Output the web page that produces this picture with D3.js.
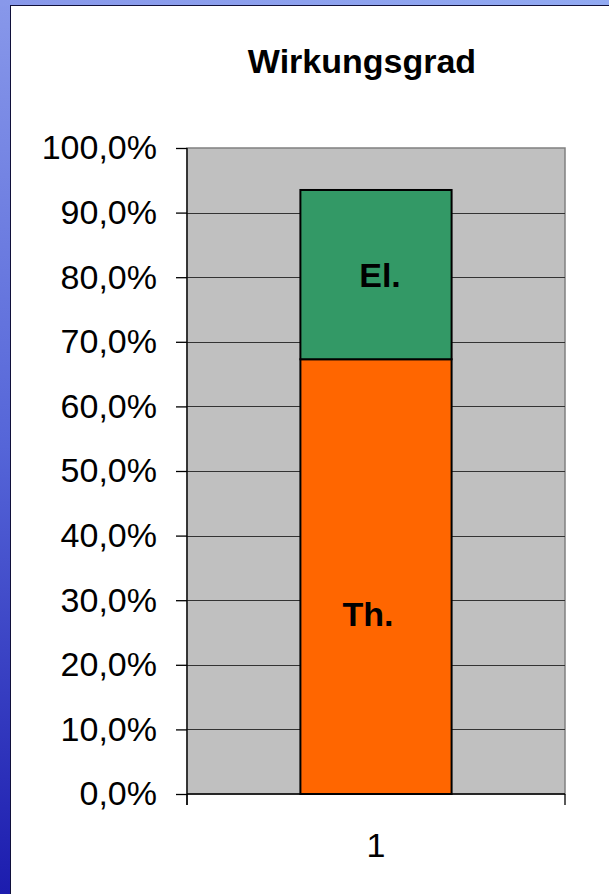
<!DOCTYPE html>
<html>
<head>
<meta charset="utf-8">
<script src="https://cdn.jsdelivr.net/npm/d3@7"></script>
<style>
  html, body { margin: 0; padding: 0; background: #fff; }
  svg { display: block; }
  text { font-family: Arial, "Liberation Sans", sans-serif; fill: #000; }
</style>
</head>
<body>
<script>
// Efficiency of the unit, stacked: thermal + electrical share
const categories = ["1"];
const seriesNames = ["Th.", "El."];
const thermal = [0.673];
const electrical = [0.262];
const yTicks = [0, 0.1, 0.2, 0.3, 0.4, 0.5, 0.6, 0.7, 0.8, 0.9, 1.0];
const title = "Wirkungsgrad";

const W = 609, H = 894;
const plot = { left: 187, right: 565, top: 148, bottom: 794 };

const svg = d3.select("body").append("svg").attr("width", W).attr("height", H);

// Slide background: blue gradient edge on the left, light strip on top
const defs = svg.append("defs");
const grad = defs.append("linearGradient").attr("id", "edge")
  .attr("x1", 0).attr("y1", 0).attr("x2", 0).attr("y2", 1);
grad.append("stop").attr("offset", "0%").attr("stop-color", "#8898ea");
grad.append("stop").attr("offset", "50%").attr("stop-color", "#5565d8");
grad.append("stop").attr("offset", "100%").attr("stop-color", "#1c1cae");
svg.append("rect").attr("width", W).attr("height", H).attr("fill", "url(#edge)");
const topGrad = defs.append("linearGradient").attr("id", "topEdge")
  .attr("x1", 0).attr("y1", 0).attr("x2", 1).attr("y2", 0);
topGrad.append("stop").attr("offset", "0%").attr("stop-color", "#8898ea");
topGrad.append("stop").attr("offset", "100%").attr("stop-color", "#92aaf2");
svg.append("rect").attr("width", W).attr("height", 6).attr("fill", "url(#topEdge)");
svg.append("rect").attr("x", 10).attr("y", 5).attr("width", W - 10).attr("height", H - 5)
  .attr("fill", "#10103a");
svg.append("rect").attr("x", 11).attr("y", 6).attr("width", W - 11).attr("height", H - 6)
  .attr("fill", "#ffffff");

const x = d3.scaleBand().domain(categories)
  .range([plot.left, plot.right]).paddingInner(0.6).paddingOuter(0.3);
const y = d3.scaleLinear().domain([0, 1]).range([plot.bottom, plot.top]);

// Plot area
svg.append("rect").attr("x", plot.left).attr("y", plot.top)
  .attr("width", plot.right - plot.left).attr("height", plot.bottom - plot.top)
  .attr("fill", "#c0c0c0").attr("stroke", "#808080").attr("stroke-width", 1.5);

// Gridlines
svg.append("g").selectAll("line").data(yTicks.slice(1, -1)).join("line")
  .attr("x1", plot.left).attr("x2", plot.right)
  .attr("y1", d => Math.round(y(d)) + 0.5).attr("y2", d => Math.round(y(d)) + 0.5)
  .attr("stroke", "#333").attr("stroke-width", 1.2);

// Stacked bars
const rows = categories.map((c, i) => ({ cat: c, "Th.": thermal[i], "El.": electrical[i] }));
const stack = d3.stack().keys(seriesNames)(rows);
const colors = { "Th.": "#ff6600", "El.": "#339966" };

const layers = svg.append("g").selectAll("g").data(stack).join("g")
  .attr("fill", d => colors[d.key]);
layers.selectAll("rect").data(d => d).join("rect")
  .attr("x", d => x(d.data.cat))
  .attr("width", x.bandwidth())
  .attr("y", d => y(d[1]))
  .attr("height", d => y(d[0]) - y(d[1]))
  .attr("stroke", "#000").attr("stroke-width", 2);

// Segment labels
const labelShift = { "Th.": { dx: -8, frac: 0.415 }, "El.": { dx: 4, frac: 0.5 } };
stack.forEach(layer => {
  layer.forEach(d => {
    const s = labelShift[layer.key];
    const v = d[0] + (d[1] - d[0]) * s.frac;
    svg.append("text")
      .attr("x", x(d.data.cat) + x.bandwidth() / 2 + s.dx)
      .attr("y", y(v))
      .attr("dy", "0.36em")
      .attr("text-anchor", "middle")
      .attr("font-weight", "bold")
      .attr("font-size", 34)
      .text(layer.key);
  });
});

// Y axis
const yAxis = d3.axisLeft(y).tickValues(yTicks).tickSize(11).tickPadding(19)
  .tickFormat(d => d3.format(".1f")(d * 100).replace(".", ",") + "%");
const gy = svg.append("g").attr("transform", `translate(${plot.left},0)`).call(yAxis);
gy.select(".domain").attr("stroke", "#000").attr("stroke-width", 1.3)
  .attr("d", `M0,${plot.top}V${plot.bottom + 11}`);
gy.selectAll(".tick line").attr("stroke", "#000").attr("stroke-width", 1.3);
gy.selectAll(".tick text").attr("font-size", 34).attr("font-family", "Arial, 'Liberation Sans', sans-serif").attr("fill", "#000");

// X axis
const xAxis = d3.axisBottom(x).tickSize(0).tickPadding(0);
const gx = svg.append("g").attr("transform", `translate(0,${plot.bottom})`).call(xAxis);
gx.select(".domain").attr("stroke", "#000").attr("stroke-width", 1.5)
  .attr("d", `M${plot.left},0H${plot.right}`);
gx.selectAll(".tick text").attr("font-size", 34).attr("font-family", "Arial, 'Liberation Sans', sans-serif")
  .attr("fill", "#000").attr("dy", null).attr("y", 63);
// Category boundary ticks
gx.append("g").selectAll("line").data([plot.left, plot.right]).join("line")
  .attr("x1", d => d).attr("x2", d => d).attr("y1", 0).attr("y2", 11)
  .attr("stroke", "#000").attr("stroke-width", 1.3);

// Title
svg.append("text").attr("x", 362).attr("y", 73)
  .attr("text-anchor", "middle").attr("font-weight", "bold").attr("font-size", 34)
  .text(title);
</script>
</body>
</html>
